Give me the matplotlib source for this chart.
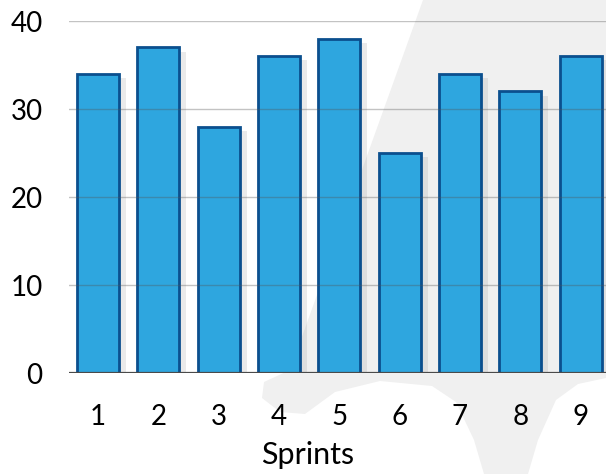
import numpy as np
import matplotlib
matplotlib.use('Agg')
import matplotlib.pyplot as plt
from matplotlib.patches import Polygon
import matplotlib.patheffects as pe

# data
sprints = ['1', '2', '3', '4', '5', '6', '7', '8', '9']
points = [34, 37, 28, 36, 38, 25, 34, 32, 36]
yticks = [0, 10, 20, 30, 40]

plt.rcParams['font.family'] = ['Lato', 'DejaVu Sans']

W, H = 606, 474
fig = plt.figure(figsize=(W / 100, H / 100), dpi=100)

# faint grey watermark swoosh behind the chart
swoosh_px = [(423, 0), (606, 0), (606, 378), (578, 384), (556, 400), (538, 440), (528, 474),
             (484, 474), (474, 440), (456, 402), (432, 386), (380, 381), (335, 392),
             (305, 414), (280, 412), (262, 398), (264, 382), (290, 370)]
swoosh = [(x / W, 1 - y / H) for x, y in swoosh_px]
fig.patches.append(Polygon(swoosh, closed=True, transform=fig.transFigure,
                           facecolor='#f0f0f0', edgecolor='none', zorder=-5))

ax = fig.add_axes([69 / W, 1 - 373 / H, 1 - 69 / W, (373 - 21) / H])
ax.patch.set_alpha(0)

x = np.arange(1, len(sprints) + 1)
bars = ax.bar(x, points, width=0.7, color='#2ea6df', edgecolor='#0b4f8e',
              linewidth=2, zorder=2)
for b in bars:
    b.set_path_effects([pe.SimplePatchShadow(offset=(5, -3), shadow_rgbFace='#999999', alpha=0.2),
                        pe.Normal()])

for v in yticks[1:]:
    ax.axhline(v, color='#555555', alpha=0.35, lw=1, zorder=3)
ax.axhline(0, color='#4a4a4a', lw=1.6, zorder=4)

ax.set_xlim(0.52, 9.42)
ax.set_ylim(0, 40)
ax.set_xticks(x)
ax.set_xticklabels(sprints)
ax.set_yticks(yticks)
ax.tick_params(axis='both', length=0, labelsize=20, colors='black')
ax.tick_params(axis='x', pad=22)
ax.tick_params(axis='y', pad=19)
for s in ax.spines.values():
    s.set_visible(False)

ax.set_xlabel('Sprints', fontsize=22)
ax.xaxis.set_label_coords((308 - 69) / 537, (373 - 441) / 352)

fig.savefig('out.png', dpi=100)
